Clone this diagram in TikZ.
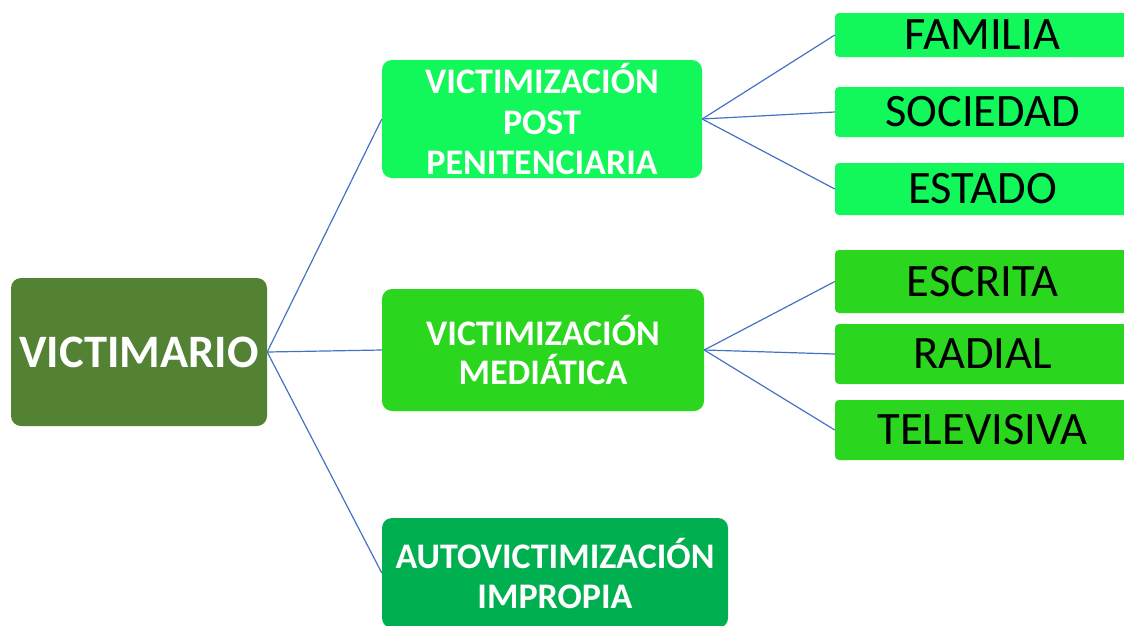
\documentclass[tikz,border=0pt]{standalone}
\usepackage{fontspec}
\setmainfont{Carlito}
\usetikzlibrary{positioning}

\definecolor{verdeoscuro}{HTML}{548235}
\definecolor{verdeclaro}{HTML}{12F75A}
\definecolor{verdemedio}{HTML}{2AD61E}
\definecolor{verdeauto}{HTML}{00B050}
\definecolor{azulrama}{HTML}{4472C4}

\begin{document}
\begin{tikzpicture}[x=1pt,y=-1pt,
    caja/.style={rounded corners=10pt,inner sep=0pt,align=center,text=white},
    hoja/.style={rounded corners=4pt,inner sep=0pt,minimum width=295pt,font=\fontsize{46.5}{48}\selectfont},
    rama/.style={azulrama,line width=1.2pt}]
  \useasboundingbox (0,0) rectangle (1124,625);
  \clip (0,0) rectangle (1124,625);
  % Cajas principales
  \node [caja,fill=verdeoscuro,minimum width=256pt,minimum height=148pt,font=\fontsize{46.5}{50}\selectfont\bfseries] (victimario) at (139,352) {VICTIMARIO};
  \node [caja,fill=verdeclaro,minimum width=320pt,minimum height=118pt,font=\fontsize{36}{40.5}\selectfont\bfseries] (post) at (542,119) {VICTIMIZACIÓN\\POST\\PENITENCIARIA};
  \node [caja,fill=verdemedio,minimum width=322pt,minimum height=122pt,font=\fontsize{36}{39}\selectfont\bfseries] (mediatica) at (543,350) {VICTIMIZACIÓN\\MEDIÁTICA};
  \node [caja,fill=verdeauto,minimum width=346pt,minimum height=110pt,font=\fontsize{36}{40}\selectfont\bfseries] (auto) at (555,573) {AUTOVICTIMIZACIÓN\\IMPROPIA};
  % Hojas
  \node [hoja,fill=verdeclaro,minimum height=44pt] (familia) at (982.5,35) {FAMILIA};
  \node [hoja,fill=verdeclaro,minimum height=50pt] (sociedad) at (982.5,112) {SOCIEDAD};
  \node [hoja,fill=verdeclaro,minimum height=52pt] (estado) at (982.5,189) {ESTADO};
  \node [hoja,fill=verdemedio,minimum height=63pt] (escrita) at (982.5,281.5) {ESCRITA};
  \node [hoja,fill=verdemedio,minimum height=60pt] (radial) at (982.5,354) {RADIAL};
  \node [hoja,fill=verdemedio,minimum height=60pt] (televisiva) at (982.5,430) {TELEVISIVA};
  % Ramas
  \draw [rama] (victimario.east) -- (post.west);
  \draw [rama] (victimario.east) -- (mediatica.west);
  \draw [rama] (victimario.east) -- (auto.west);
  \draw [rama] (post.east) -- (familia.west);
  \draw [rama] (post.east) -- (sociedad.west);
  \draw [rama] (post.east) -- (estado.west);
  \draw [rama] (mediatica.east) -- (escrita.west);
  \draw [rama] (mediatica.east) -- (radial.west);
  \draw [rama] (mediatica.east) -- (televisiva.west);
\end{tikzpicture}
\end{document}
